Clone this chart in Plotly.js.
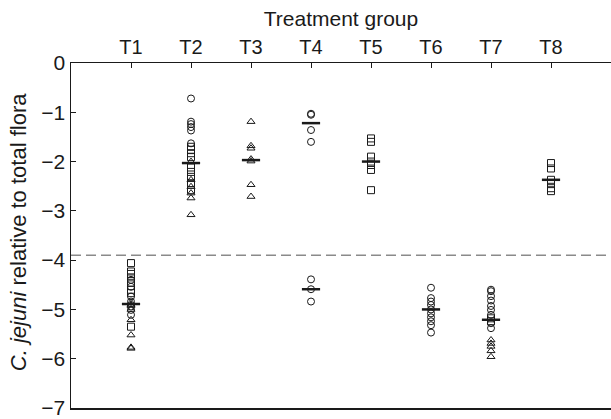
<!DOCTYPE html>
<html>
<head>
<meta charset="utf-8">
<script src="https://cdn.plot.ly/plotly-3.0.1.min.js"></script>
<style>html,body{margin:0;padding:0;background:#fff;}#chart{width:611px;height:419px;}</style>
</head>
<body>
<div id="chart"></div>
<script>
// Treatment groups (top axis tick labels)
const groups = ['T1', 'T2', 'T3', 'T4', 'T5', 'T6', 'T7', 'T8'];

// Circles
const circleGroup = ['T1','T1','T1','T1','T1','T1','T1',
  'T2','T2','T2','T2','T2','T2',
  'T4','T4','T4','T4','T4','T4','T4',
  'T6','T6','T6','T6','T6','T6','T6','T6','T6','T6',
  'T7','T7','T7','T7','T7','T7','T7','T7','T7'];
const circleValue = [-4.40,-4.54,-4.74,-4.84,-4.94,-5.01,-5.11,
  -0.72,-1.19,-1.24,-1.30,-1.37,-1.63,
  -1.03,-1.05,-1.36,-1.60,-4.39,-4.59,-4.84,
  -4.56,-4.77,-4.84,-4.91,-5.00,-5.08,-5.16,-5.24,-5.32,-5.47,
  -4.60,-4.63,-4.73,-4.82,-4.93,-5.01,-5.11,-5.28,-5.38];

// Squares
const squareGroup = ['T1','T1','T1','T1','T1','T1','T1','T1',
  'T2','T2','T2','T2','T2','T2','T2','T2','T2',
  'T5','T5','T5','T5','T5','T5','T5',
  'T7','T7',
  'T8','T8','T8','T8','T8','T8'];
const squareValue = [-4.06,-4.23,-4.28,-4.35,-4.46,-4.60,-4.67,-5.35,
  -1.70,-1.76,-1.83,-1.91,-2.12,-2.21,-2.31,-2.44,-2.58,
  -1.53,-1.60,-1.90,-2.00,-2.07,-2.17,-2.58,
  -5.18,-5.24,
  -2.03,-2.14,-2.37,-2.44,-2.54,-2.60];

// Triangles
const triangleGroup = ['T1','T1','T1','T1','T1','T1','T1','T1',
  'T2','T2','T2','T2','T2','T2',
  'T3','T3','T3','T3','T3','T3','T3',
  'T7','T7','T7','T7','T7'];
const triangleValue = [-4.86,-4.92,-5.00,-5.21,-5.52,-5.77,-5.79,-4.90,
  -2.00,-2.37,-2.51,-2.64,-2.74,-3.08,
  -1.19,-1.68,-1.73,-1.95,-1.99,-2.47,-2.71,
  -5.62,-5.69,-5.75,-5.84,-5.96];

// Medians
const medianGroup = ['T1','T2','T3','T4','T4','T5','T6','T7','T8'];
const medianValue = [-4.89,-2.03,-1.97,-1.22,-4.59,-2.00,-5.00,-5.21,-2.37];

// Detection threshold
const thresholdValue = -3.9;

const ink = '#1a1a1a';
const mk = (sym) => ({symbol: sym, size: 7, color: ink, line: {color: ink, width: 1}});

const traces = [
  {type: 'scatter', mode: 'markers', x: circleGroup, y: circleValue, marker: mk('circle-open'), hoverinfo: 'y'},
  {type: 'scatter', mode: 'markers', x: squareGroup, y: squareValue, marker: mk('square-open'), hoverinfo: 'y'},
  {type: 'scatter', mode: 'markers', x: triangleGroup, y: triangleValue, marker: mk('triangle-up-open'), hoverinfo: 'y'},
  {type: 'scatter', mode: 'markers', x: medianGroup, y: medianValue,
   marker: {symbol: 'line-ew', size: 13, color: ink, line: {color: ink, width: 2.5}}, hoverinfo: 'y'}
];

const fam = 'Liberation Sans, Arial, sans-serif';
const font = {family: fam, size: 20, color: ink};

const layout = {
  width: 611, height: 419,
  margin: {l: 71, r: 0, t: 63, b: 11},
  paper_bgcolor: '#fff', plot_bgcolor: '#fff',
  showlegend: false,
  font: font,
  xaxis: {
    type: 'category', categoryorder: 'array', categoryarray: groups,
    range: [-1, 8], side: 'top',
    showline: true, linecolor: ink, linewidth: 1.5, mirror: true,
    ticks: 'inside', ticklen: 5, tickcolor: ink, tickwidth: 1,
    showgrid: false, zeroline: false,
    tickfont: font,
    title: {text: 'Treatment group', font: {family: fam, size: 21, color: ink}, standoff: 3}
  },
  yaxis: {
    range: [-7, 0], dtick: 1, tick0: 0,
    showline: true, linecolor: ink, linewidth: 1.5,
    ticks: 'inside', ticklen: 5, tickcolor: ink, tickwidth: 1,
    showgrid: false, zeroline: false,
    ticklabeloverflow: 'allow',
    tickfont: {family: fam, size: 21, color: ink}
  },
  shapes: [{type: 'line', xref: 'paper', x0: 0, x1: 1, yref: 'y', y0: thresholdValue, y1: thresholdValue,
            line: {color: '#8a8a8a', width: 1.5, dash: '10px,5px'}}],
  annotations: [{
    xref: 'paper', yref: 'paper', x: -0.098, y: 0.51, xanchor: 'center', yanchor: 'middle',
    textangle: -90, showarrow: false, font: {family: fam, size: 22, color: ink},
    text: '<i>C. jejuni</i> relative to total flora'
  }]
};

Plotly.newPlot('chart', traces, layout, {displayModeBar: false, staticPlot: true});
</script>
</body>
</html>
